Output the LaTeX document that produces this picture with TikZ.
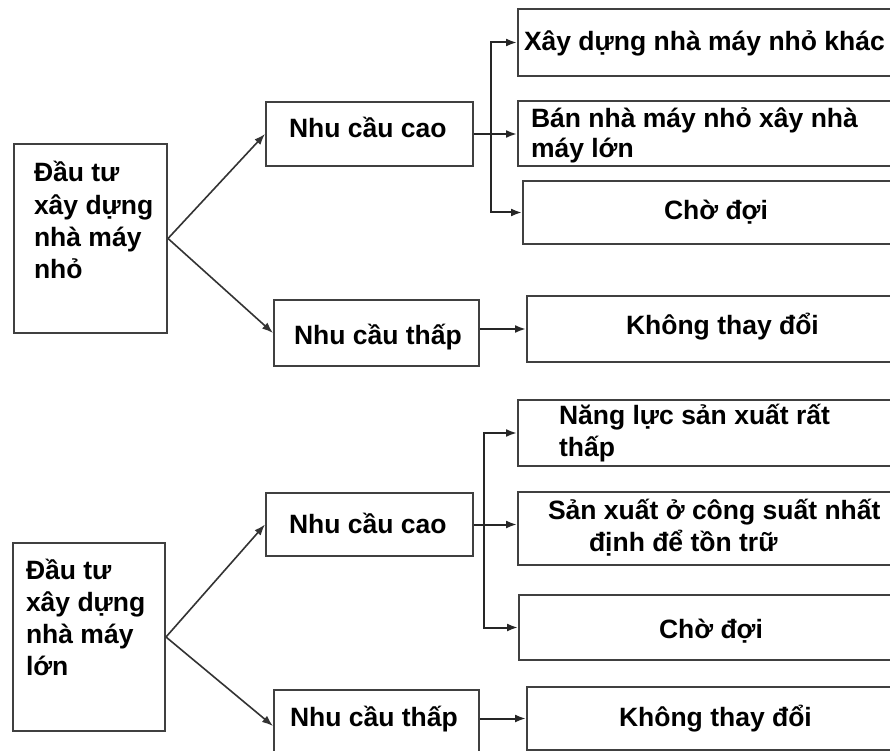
\documentclass[tikz,border=0pt]{standalone}
\usepackage{fontspec}
\setmainfont{Liberation Sans}
\usetikzlibrary{arrows.meta}

% Box contents: width, height, left indent, first baseline, lines
\newcommand{\boxbody}[5]{%
  \parbox[c][#2][t]{#1}{\raggedright\leftskip=#3\relax
    \lineskiplimit=-100pt\rule{0pt}{#4}#5}}

\definecolor{edgecol}{gray}{0.25}

\tikzset{
  box/.style={draw=edgecol, line width=2pt, inner sep=0pt, anchor=north west,
    font=\fontsize{26.5}{32}\selectfont\bfseries},
  arr/.style={draw=black!85, line width=2pt, -{Latex[length=11pt,width=8pt]}},
  diag/.style={draw=black!80, line width=1.6pt, -{Latex[length=11pt,width=8pt]}}
}

\begin{document}
\begin{tikzpicture}[x=1pt, y=-1pt]
\clip (0,0) rectangle (890,751);
\fill[white] (0,0) rectangle (890,751);

% ---- small plant ----
\node[box] (s0) at (13,143) {\boxbody{153pt}{189pt}{20pt}{38pt}{Đầu tư\\xây dựng\\nhà máy\\nhỏ}};
\node[box] (hc) at (265,101) {\boxbody{207pt}{64pt}{23pt}{36pt}{Nhu cầu cao}};
\node[box] (lt) at (273,299) {\boxbody{205pt}{66pt}{20pt}{44pt}{Nhu cầu thấp}};
\node[box] (xay) at (517,8) {\boxbody{390pt}{67pt}{6pt}{42pt}{Xây dựng nhà máy nhỏ khác}};
\node[box] (ban) at (517,100) {\boxbody{390pt}{65pt}{13pt}{27pt}{\baselineskip=30pt Bán nhà máy nhỏ xây nhà\\máy lớn}};
\node[box] (cho) at (522,180) {\boxbody{390pt}{63pt}{141pt}{38pt}{Chờ đợi}};
\node[box] (kt) at (526,295) {\boxbody{384pt}{66pt}{99pt}{38pt}{Không thay đổi}};

\draw[diag] (s0.east) -- (hc.west);
\draw[diag] (s0.east) -- (lt.west);
\draw[arr] (hc.east) -- (hc.east -| ban.west);
\path (hc.east) ++(17,0) coordinate (j1);
\draw[arr] (j1) |- (xay.west);
\draw[arr] (j1) |- (cho.west);
\draw[arr] (kt.west -| lt.east) -- (kt.west);

% ---- large plant ----
\node[box] (s1) at (12,542) {\boxbody{152pt}{188pt}{13pt}{36pt}{Đầu tư\\xây dựng\\nhà máy\\lớn}};
\node[box] (hc2) at (265,492) {\boxbody{207pt}{63pt}{23pt}{40pt}{Nhu cầu cao}};
\node[box] (lt2) at (273,689) {\boxbody{205pt}{72pt}{16pt}{36pt}{Nhu cầu thấp}};
\node[box] (nang) at (517,399) {\boxbody{390pt}{66pt}{41pt}{24pt}{Năng lực sản xuất rất\\thấp}};
\node[box] (san) at (517,491) {\boxbody{390pt}{73pt}{30pt}{27pt}{Sản xuất ở công suất nhất\\\hspace*{41pt}định để tồn trữ}};
\node[box] (cho2) at (518,594) {\boxbody{390pt}{65pt}{140pt}{43pt}{Chờ đợi}};
\node[box] (kt2) at (526,686) {\boxbody{390pt}{63pt}{92pt}{39pt}{Không thay đổi}};

\draw[diag] (s1.east) -- (hc2.west);
\draw[diag] (s1.east) -- (lt2.west);
\draw[arr] (hc2.east) -- (hc2.east -| san.west);
\path (hc2.east) ++(10,0) coordinate (j2);
\draw[arr] (j2) |- (nang.west);
\draw[arr] (j2) |- (cho2.west);
\draw[arr] (kt2.west -| lt2.east) -- (kt2.west);
\end{tikzpicture}
\end{document}
